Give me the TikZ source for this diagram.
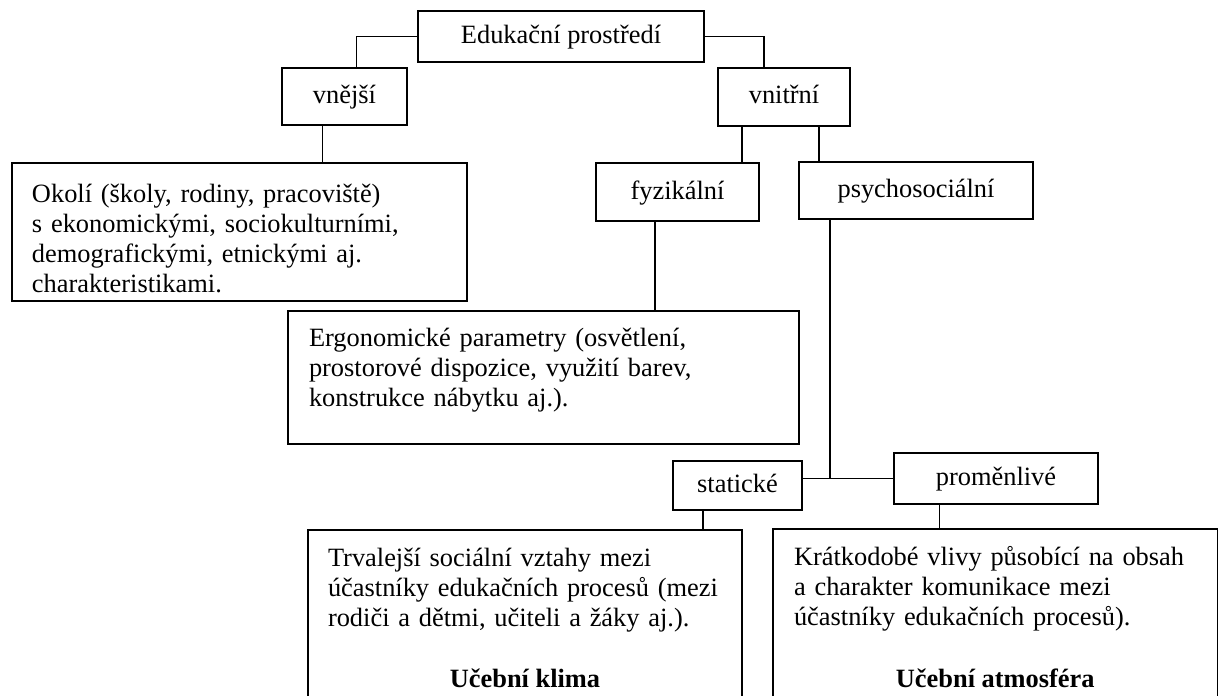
\documentclass[tikz,border=0pt]{standalone}
\usepackage{fontspec}
\setmainfont{Liberation Serif}
\usepackage{tikz}
\usetikzlibrary{calc,positioning}
\newcommand{\pismo}{\fontsize{13.2pt}{15pt}\selectfont}
\tikzset{ramec/.style={draw,line width=0.65pt,inner sep=0pt,text height=0.8em,text depth=0.1em},
  obrys/.style={draw,line width=0.65pt,inner sep=0pt},
  popis/.style={anchor=base west,inner sep=0pt,align=left,text width=#1},
  nadpis/.style={anchor=base,inner sep=0pt,font=\pismo\bfseries}}

\begin{document}
\begin{tikzpicture}[x=0.5pt,y=-0.5pt,line cap=round,line width=0.65pt,font=\pismo]

  \useasboundingbox (0,0) rectangle (1218,695);
  \clip (0,0) rectangle (1218,695);

  \draw (561,36.5) node[ramec,minimum width=143pt,minimum height=25.5pt] (edu) {Edukační prostředí};
  \draw (344.5,96.5) node[ramec,minimum width=62.5pt,minimum height=28.5pt] (vnejsi) {vnější};
  \draw (784,97) node[ramec,minimum width=66pt,minimum height=29pt] (vnitrni) {vnitřní};
  \draw (677.5,192) node[ramec,minimum width=81.5pt,minimum height=29pt] (fyz) {fyzikální};
  \draw (916,190.5) node[ramec,minimum width=117pt,minimum height=28.5pt] (psych) {psychosociální};
  \draw (737.5,485.5) node[ramec,minimum width=64.5pt,minimum height=24.5pt] (stat) {statické};
  \draw (996,478.5) node[ramec,minimum width=102pt,minimum height=25.5pt] (prom) {proměnlivé};

  \draw (239.5,232) node[obrys,minimum width=227.5pt,minimum height=69pt] (okoli) {};
  \draw (543.5,377.5) node[obrys,minimum width=255.5pt,minimum height=66.5pt] (ergo) {};
  \draw (525,655) node[obrys,minimum width=217pt,minimum height=125pt] (trv) {};
  \draw (995.25,654.5) node[obrys,minimum width=222.25pt,minimum height=125.5pt] (krat) {};

  \node[popis=215pt] (okolitext) at ($(okoli.north west)+(20,40)$)
    {Okolí (školy, rodiny, pracoviště)\\ s ekonomickými, sociokulturními,\\ demografickými, etnickými aj.\\ charakteristikami.};
  \node[popis=240pt] (ergotext) at ($(ergo.north west)+(21,36)$)
    {Ergonomické parametry (osvětlení,\\ prostorové dispozice, využití barev,\\ konstrukce nábytku aj.).};
  \node[popis=205pt] (trvtext) at ($(trv.north west)+(20,37)$)
    {Trvalejší sociální vztahy mezi\\ účastníky edukačních procesů (mezi\\ rodiči a dětmi, učiteli a žáky aj.).};
  \node[popis=210pt] (krattext) at ($(krat.north west)+(21,37)$)
    {Krátkodobé vlivy působící na obsah\\ a charakter komunikace mezi\\ účastníky edukačních procesů).};
  \node[nadpis] (klima) at ($(trv.north)+(0,158)$) {Učební klima};
  \node[nadpis] (atmosfera) at ($(krat.north)+(0,159)$) {Učební atmosféra};

  \draw (edu.west) -| ([xshift=6pt]vnejsi.north);
  \draw (edu.east) -| ([xshift=-10pt]vnitrni.north);
  \draw ([xshift=-11pt]vnejsi.south) -- ([xshift=-11pt]vnejsi.south |- okoli.north);
  \draw ([xshift=-21pt]vnitrni.south) -- ([xshift=-21pt]vnitrni.south |- fyz.north);
  \draw ([xshift=17.5pt]vnitrni.south) -- ([xshift=17.5pt]vnitrni.south |- psych.north);
  \draw ([xshift=-11.25pt]fyz.south) -- ([xshift=-11.25pt]fyz.south |- ergo.north);
  \draw ([xshift=-43pt]psych.south) |- (prom.west);
  \draw (prom.west) -- (prom.west -| stat.east);
  \draw ([xshift=-17.25pt]stat.south) -- ([xshift=-17.25pt]stat.south |- trv.north);
  \draw ([xshift=-28.25pt]prom.south) -- ([xshift=-28.25pt]prom.south |- krat.north);

\end{tikzpicture}
\end{document}
